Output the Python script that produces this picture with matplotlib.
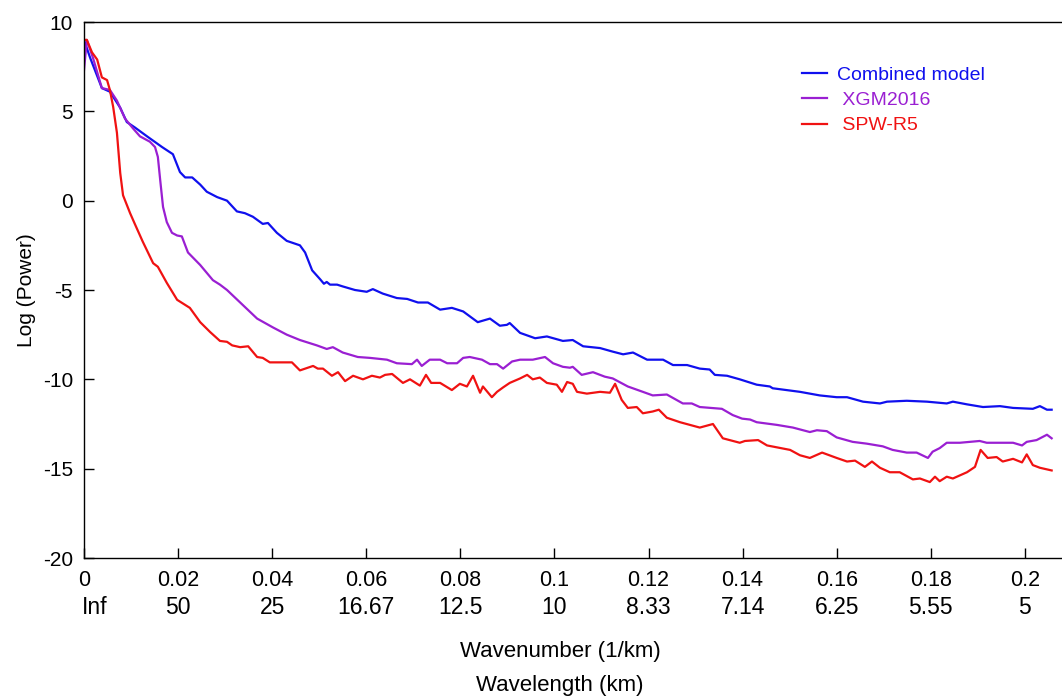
import matplotlib
matplotlib.use("Agg")
import matplotlib.pyplot as plt
import matplotlib.transforms as mtransforms

plt.rcParams["font.family"] = ["Liberation Sans", "DejaVu Sans"]

# wavenumber (1/km) and log power
combined_x = [0, 0.0013, 0.0038, 0.0055, 0.0077, 0.0091, 0.0108, 0.0134, 0.0166, 0.0189,
              0.0204, 0.0215, 0.0230, 0.0247, 0.0261, 0.0283, 0.0304, 0.0325, 0.0342, 0.0359,
              0.0380, 0.0391, 0.0410, 0.0431, 0.0459, 0.0470, 0.0485, 0.0502, 0.0510, 0.0516,
              0.0523, 0.0538, 0.0550, 0.0576, 0.0601, 0.0614, 0.0635, 0.0665, 0.0687, 0.0710,
              0.0731, 0.0757, 0.0782, 0.0806, 0.0837, 0.0863, 0.0884, 0.0899, 0.0905, 0.0927,
              0.0959, 0.0984, 0.1018, 0.1039, 0.1061, 0.1097, 0.1124, 0.1146, 0.1167, 0.1197,
              0.1231, 0.1252, 0.1282, 0.1309, 0.1330, 0.1341, 0.1367, 0.1394, 0.1430, 0.1458,
              0.1464, 0.1522, 0.1564, 0.1600, 0.1622, 0.1656, 0.1692, 0.1707, 0.1749, 0.1792,
              0.1834, 0.1847, 0.1877, 0.1911, 0.1947, 0.1975, 0.2017, 0.2032, 0.2047, 0.2057]
combined_y = [9.0, 8.0, 6.3, 6.1, 5.2, 4.4, 4.1, 3.6, 3.0, 2.6,
              1.6, 1.3, 1.3, 0.9, 0.5, 0.2, 0.0, -0.6, -0.7, -0.9,
              -1.3, -1.25, -1.8, -2.25, -2.5, -2.9, -3.9, -4.4, -4.65, -4.55,
              -4.7, -4.7, -4.8, -5.0, -5.1, -4.95, -5.2, -5.45, -5.5, -5.7,
              -5.7, -6.1, -6.0, -6.2, -6.8, -6.6, -7.0, -6.95, -6.85, -7.4,
              -7.7, -7.6, -7.85, -7.8, -8.15, -8.25, -8.45, -8.6, -8.5, -8.9,
              -8.9, -9.2, -9.2, -9.4, -9.45, -9.75, -9.8, -10.0, -10.3, -10.4,
              -10.5, -10.7, -10.9, -11.0, -11.0, -11.25, -11.35, -11.25, -11.2, -11.25,
              -11.35, -11.25, -11.4, -11.55, -11.5, -11.6, -11.65, -11.5, -11.7, -11.7]

xgm_x = [0, 0.0006, 0.0019, 0.0038, 0.0055, 0.0070, 0.0087, 0.0104, 0.0119, 0.0140,
         0.0151, 0.0157, 0.0162, 0.0168, 0.0176, 0.0187, 0.0198, 0.0208, 0.0221, 0.0247,
         0.0274, 0.0289, 0.0304, 0.0332, 0.0368, 0.0402, 0.0431, 0.0459, 0.0495, 0.0516,
         0.0529, 0.0550, 0.0582, 0.0608, 0.0644, 0.0665, 0.0697, 0.0708, 0.0718, 0.0735,
         0.0757, 0.0772, 0.0793, 0.0806, 0.0820, 0.0846, 0.0863, 0.0878, 0.0891, 0.0910,
         0.0927, 0.0954, 0.0980, 0.0997, 0.1018, 0.1033, 0.1039, 0.1058, 0.1082, 0.1107,
         0.1124, 0.1156, 0.1188, 0.1209, 0.1239, 0.1273, 0.1292, 0.1309, 0.1356, 0.1379,
         0.1399, 0.1416, 0.1430, 0.1473, 0.1507, 0.1543, 0.1558, 0.1579, 0.1600, 0.1634,
         0.1664, 0.1698, 0.1719, 0.1749, 0.1770, 0.1794, 0.1804, 0.1819, 0.1834, 0.1862,
         0.1904, 0.1919, 0.1947, 0.1975, 0.1994, 0.2004, 0.2025, 0.2047, 0.2057]
xgm_y = [7.3, 9.0, 8.0, 6.3, 6.2, 5.6, 4.6, 4.05, 3.6, 3.3,
         3.0, 2.45, 1.15, -0.35, -1.2, -1.8, -1.95, -2.0, -2.9, -3.6,
         -4.45, -4.7, -5.0, -5.7, -6.6, -7.1, -7.5, -7.8, -8.1, -8.3,
         -8.2, -8.5, -8.75, -8.8, -8.9, -9.1, -9.15, -8.9, -9.25, -8.9,
         -8.9, -9.1, -9.1, -8.8, -8.75, -8.9, -9.15, -9.15, -9.4, -9.0,
         -8.9, -8.9, -8.75, -9.1, -9.3, -9.35, -9.3, -9.75, -9.6, -9.85,
         -9.95, -10.4, -10.7, -10.9, -10.85, -11.35, -11.35, -11.55, -11.65, -12.0,
         -12.2, -12.25, -12.4, -12.55, -12.7, -12.95, -12.85, -12.9, -13.25, -13.5,
         -13.6, -13.75, -13.95, -14.1, -14.1, -14.4, -14.05, -13.85, -13.55, -13.55,
         -13.45, -13.55, -13.55, -13.55, -13.7, -13.5, -13.4, -13.1, -13.3]

spw_x = [0, 0.0006, 0.0017, 0.0028, 0.0038, 0.0049, 0.0055, 0.0062, 0.0070, 0.0077,
         0.0083, 0.0098, 0.0108, 0.0125, 0.0147, 0.0157, 0.0176, 0.0198, 0.0225, 0.0247,
         0.0268, 0.0289, 0.0304, 0.0315, 0.0332, 0.0349, 0.0368, 0.0380, 0.0395, 0.0423,
         0.0442, 0.0459, 0.0487, 0.0497, 0.0508, 0.0527, 0.0540, 0.0555, 0.0572, 0.0593,
         0.0612, 0.0629, 0.0640, 0.0655, 0.0678, 0.0693, 0.0714, 0.0727, 0.0738, 0.0757,
         0.0782, 0.0799, 0.0814, 0.0827, 0.0842, 0.0848, 0.0867, 0.0878, 0.0891, 0.0905,
         0.0927, 0.0942, 0.0954, 0.0969, 0.0984, 0.1005, 0.1016, 0.1027, 0.1039, 0.1048,
         0.1069, 0.1097, 0.1118, 0.1129, 0.1143, 0.1156, 0.1175, 0.1188, 0.1209, 0.1222,
         0.1239, 0.1267, 0.1288, 0.1309, 0.1337, 0.1358, 0.1394, 0.1405, 0.1433, 0.1452,
         0.1501, 0.1522, 0.1543, 0.1569, 0.1600, 0.1622, 0.1639, 0.1660, 0.1675, 0.1692,
         0.1713, 0.1734, 0.1762, 0.1777, 0.1798, 0.1809, 0.1819, 0.1834, 0.1847, 0.1877,
         0.1894, 0.1906, 0.1921, 0.1940, 0.1953, 0.1975, 0.1994, 0.2004, 0.2017, 0.2032,
         0.2057]
spw_y = [9.0, 9.0, 8.3, 7.9, 6.9, 6.75, 6.2, 5.25, 3.8, 1.55,
         0.3, -0.7, -1.3, -2.3, -3.5, -3.7, -4.6, -5.55, -6.0, -6.8,
         -7.35, -7.85, -7.9, -8.1, -8.2, -8.15, -8.75, -8.8, -9.05, -9.05,
         -9.05, -9.5, -9.25, -9.4, -9.4, -9.8, -9.6, -10.1, -9.8, -10.0,
         -9.8, -9.9, -9.75, -9.7, -10.2, -10.0, -10.35, -9.75, -10.2, -10.2,
         -10.6, -10.25, -10.4, -9.8, -10.75, -10.4, -11.0, -10.7, -10.45, -10.2,
         -9.95, -9.75, -10.0, -9.9, -10.2, -10.3, -10.7, -10.15, -10.25, -10.7,
         -10.8, -10.7, -10.75, -10.25, -11.15, -11.6, -11.55, -11.9, -11.8, -11.7,
         -12.15, -12.4, -12.55, -12.7, -12.5, -13.3, -13.55, -13.45, -13.4, -13.7,
         -13.95, -14.25, -14.4, -14.1, -14.4, -14.6, -14.55, -14.9, -14.6, -14.95,
         -15.2, -15.2, -15.6, -15.55, -15.75, -15.45, -15.7, -15.45, -15.55, -15.2,
         -14.9, -13.95, -14.4, -14.35, -14.6, -14.45, -14.65, -14.2, -14.8, -14.95,
         -15.1]

wavenumber_ticks = [0, 0.02, 0.04, 0.06, 0.08, 0.1, 0.12, 0.14, 0.16, 0.18, 0.2]
wavenumber_labels = ["0", "0.02", "0.04", "0.06", "0.08", "0.1", "0.12", "0.14", "0.16", "0.18", "0.2"]
wavelength_labels = ["Inf", "50", "25", "16.67", "12.5", "10", "8.33", "7.14", "6.25", "5.55", "5"]

fig = plt.figure(figsize=(10.62, 6.97), dpi=100)
ax = fig.add_axes([84 / 1062, 139 / 697, 978 / 1062, 536 / 697])

ax.plot(combined_x, combined_y, color="#1010ee", lw=1.6, label="Combined model")
ax.plot(xgm_x, xgm_y, color="#9a1fd2", lw=1.6, label=" XGM2016")
ax.plot(spw_x, spw_y, color="#f01212", lw=1.6, label=" SPW-R5")

ax.set_xlim(0, 0.2079)
ax.set_ylim(-20, 10)
ax.spines["right"].set_visible(False)
for s in ["left", "bottom", "top"]:
    ax.spines[s].set_linewidth(1.0)

ax.set_yticks([-20, -15, -10, -5, 0, 5, 10])
ax.set_yticklabels(["-20", "-15", "-10", "-5", "0", "5", "10"])
ax.tick_params(axis="y", direction="in", length=7, width=1, labelsize=15, pad=8)
ax.set_xticks(wavenumber_ticks)
ax.set_xticklabels(wavenumber_labels)
ax.tick_params(axis="x", direction="in", length=7, width=1, labelsize=15.5, pad=9)

# second row of labels: wavelength
trans = mtransforms.blended_transform_factory(ax.transData, fig.transFigure)
for i, (xv, lab) in enumerate(zip(wavenumber_ticks, wavelength_labels)):
    xpos = xv + (0.0023 if i == 0 else 0)
    ax.text(xpos, 1 - 608 / 697, lab, transform=trans, ha="center", va="center", fontsize=16.5)

ax.set_ylabel("Log (Power)", fontsize=15, labelpad=5)
fig.text(560 / 1062, 1 - 652 / 697, "Wavenumber (1/km)", ha="center", va="center", fontsize=16)
fig.text(560 / 1062, 1 - 685 / 697, "Wavelength (km)", ha="center", va="center", fontsize=16)

leg = ax.legend(loc="upper left", bbox_to_anchor=(802 / 1062, 1 - 66 / 697),
                bbox_transform=fig.transFigure, frameon=False, fontsize=14,
                handlelength=1.3, handletextpad=0.5, labelspacing=0.4,
                borderpad=0, borderaxespad=0, labelcolor="linecolor")

fig.savefig("out.png", dpi=100)
